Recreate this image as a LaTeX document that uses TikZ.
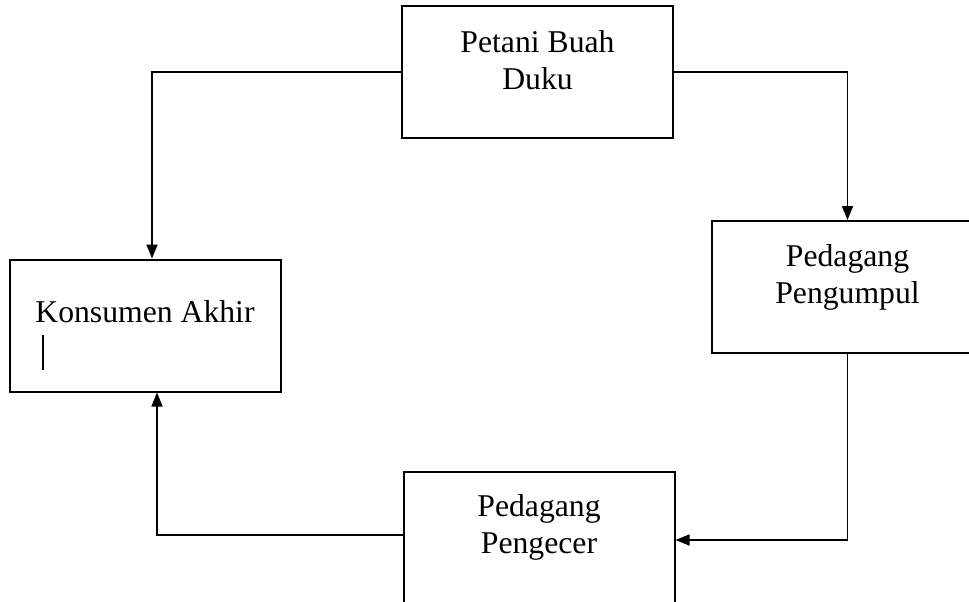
\documentclass[tikz,border=0pt]{standalone}
\usepackage{fontspec}
\setmainfont{Liberation Serif}
\usetikzlibrary{arrows.meta, positioning}

\begin{document}
\begin{tikzpicture}[x=1pt, y=-1pt,
  box/.style={draw, line width=2pt, minimum width=271pt, minimum height=132pt, inner sep=0pt},
  lbl/.style={align=center, inner sep=0pt, font=\fontsize{31.7}{37}\selectfont},
  link/.style={line width=1.5pt, -{Triangle[length=14pt, width=11pt]}}]
  \useasboundingbox (0,0) rectangle (969,602);
  \clip (0,0) rectangle (969,602);
  \node[box] (petani) at (537.5,72) {};
  \node[box] (konsumen) at (145,325.5) {};
  \node[box] (pengumpul) at (847.5,287) {};
  \node[box] (pengecer) at (539,538) {};
  \node[lbl, below=25pt of petani.north] (petaniText) {Petani Buah\\Duku};
  \node[lbl, below=42pt of konsumen.north] (konsumenText) {Konsumen Akhir};
  \node[lbl, below=24.5pt of pengumpul.north] (pengumpulText) {Pedagang\\Pengumpul};
  \node[lbl, below=23.5pt of pengecer.north] (pengecerText) {Pedagang\\Pengecer};
  \draw[link] (petani.west) -| ([xshift=7pt]konsumen.north);
  \draw[link] (petani.east) -| (pengumpul.north);
  \draw[link] (pengumpul.south) |- ([yshift=-2pt]pengecer.east);
  \draw[link] ([yshift=3pt]pengecer.west) -| ([xshift=12pt]konsumen.south);
  \draw[line width=1.5pt] (43,335) -- (43,370);
\end{tikzpicture}
\end{document}
